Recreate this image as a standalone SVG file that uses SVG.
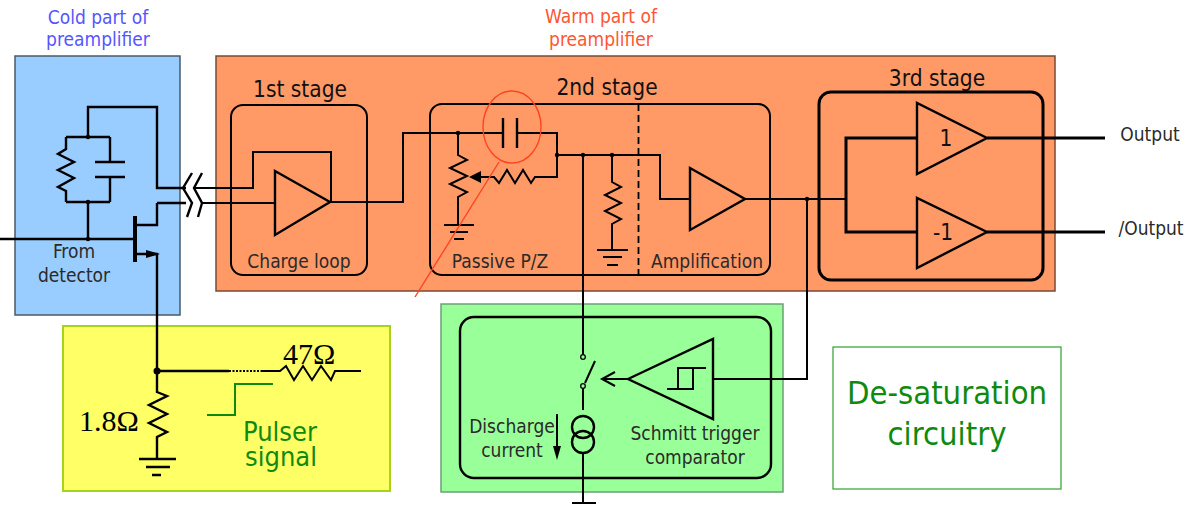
<svg xmlns="http://www.w3.org/2000/svg" width="1188" height="506" viewBox="0 0 1188 506">
<defs><style>
.t{font-family:"DejaVu Sans",sans-serif;font-stretch:condensed;font-size:19px;fill:#2a2a2a;text-anchor:middle}
.st{font-size:22.5px;fill:#111}
.w{fill:none;stroke:#000;stroke-width:2;stroke-linejoin:miter}
.b{fill:none;stroke:#000;stroke-width:3}
.m{fill:none;stroke:#000;stroke-width:2.4}
.g{font-family:"DejaVu Sans",sans-serif;font-stretch:condensed;fill:#0e8a0e;text-anchor:middle}
.o{font-family:"Liberation Serif",serif;font-size:30px;fill:#000}
</style></defs>
<rect width="1188" height="506" fill="#fff"/>
<g id="cold-box"><rect x="15" y="56" width="165" height="259" fill="#99ccff" stroke="#4a5a68" stroke-width="1.5"/></g>
<g id="warm-box"><rect x="216" y="56" width="839" height="235" fill="#ff9966" stroke="#7a4a32" stroke-width="1.5"/></g>
<g id="pulser-box"><rect x="63" y="326" width="327" height="165" fill="#ffff66" stroke="#a6d41c" stroke-width="2"/></g>
<g id="desat-box"><rect x="441" y="304" width="342" height="188" fill="#99ff99" stroke="#6e9e78" stroke-width="1.5"/></g>
<g id="desaturation"><rect x="833" y="347" width="228" height="142" fill="#fff" stroke="#2ea02e" stroke-width="1.2"/>
<text class="g" x="947" y="404" font-size="32.5">De-saturation</text><text class="g" x="947" y="445" font-size="32.5">circuitry</text></g>
<g id="titles">
<text class="t" x="98" y="24" style="fill:#5555ff">Cold part of</text><text class="t" x="98" y="46" style="fill:#5555ff">preamplifier</text>
<text class="t" x="601" y="23" style="fill:#ff5533">Warm part of</text><text class="t" x="601" y="46" style="fill:#ff5533">preamplifier</text>
</g>
<g id="stage1"><rect x="231" y="105" width="136" height="170" rx="12" class="w"/><text class="t st" x="300" y="97">1st stage</text><text class="t" x="299" y="268">Charge loop</text></g>
<g id="stage2"><rect x="430" y="104" width="340" height="171" rx="12" class="w"/><text class="t st" x="607" y="95">2nd stage</text><text class="t" x="500" y="268">Passive P/Z</text><text class="t" x="707" y="268">Amplification</text>
<path d="M638.5 104V277" fill="none" stroke="#000" stroke-width="1.8" stroke-dasharray="7 4"/></g>
<g id="stage3"><rect x="819" y="92" width="224" height="188" rx="12" class="b"/><text class="t st" x="937" y="86">3rd stage</text></g>
<g id="desat-inner"><rect x="460" y="317" width="311" height="161" rx="14" class="m"/>
<text class="t" x="512" y="433">Discharge</text><text class="t" x="512" y="457">current</text>
<text class="t" x="695" y="440">Schmitt trigger</text><text class="t" x="695" y="464">comparator</text></g>
<g id="connectors">
<path class="m" d="M88 137V107H157V188H186M66 137H110M66 202H110M88 202V239M66 137V149L58 154L74 162L58 170L74 178L58 187L66 191V202M110 137V162M95 162H125M95 177H125M110 177V202M157 203H186M135 225H157V203M135 254H157V315"/>
<path class="m" d="M0 239H135"/>
<path d="M135 216V262" fill="none" stroke="#000" stroke-width="4"/>
<path d="M146 250L160 254L146 258Z" fill="#000"/>
<path class="m" d="M192 173L183 188L192 203L187 217M202 173L194 188L202 203L198 217"/>
<circle cx="88" cy="137" r="2.2"/><circle cx="88" cy="202" r="2.2"/><circle cx="88" cy="239" r="2.2"/>
<path class="w" d="M195 188H253V152H331V202M203 203H275"/>
<path class="m" d="M275 171V235L330 202Z"/>
<path class="w" d="M330 202H403V133H503M517 133H557V155M557 155H660V199H690"/>
<path class="m" d="M503 118V148M517 118V148"/>
<path class="w" d="M458 133V155L467 160L450 168L467 176L450 184L467 192L458 197V225M444 225H474M450 232H468M454 239H464"/>
<path class="w" d="M557 155V177H535L531 183L523 170L515 183L507 170L499 183L494 177H478"/>
<path d="M469 177L481 171V183Z" fill="#000"/>
<path class="w" d="M612 155V182L621 187L605 195L621 203L605 211L621 219L612 224V250M597 250H628M603 257H622M607 265H618"/>
<circle cx="458" cy="133" r="2.2"/><circle cx="557" cy="155" r="2.2"/><circle cx="583" cy="155" r="2.2"/><circle cx="612" cy="155" r="2.2"/>
<path class="m" d="M690 168V230L745 199Z"/>
<path class="w" d="M745 199H846"/><circle cx="807" cy="199" r="2.2"/>
<path class="b" d="M987 138H1105M987 232H1105M918 138H846V232H918"/>
<path class="m" d="M917 103V174L987 138ZM917 198V268L987 232Z"/>
<text class="t st" x="946" y="146">1</text><text class="t st" x="943" y="240">-1</text>
<path class="w" d="M583 155V355M583 388V410M583 452V503M572 503H596M807 199V379H713"/>
<circle cx="583" cy="357" r="2.3" fill="#99ff99" stroke="#000" stroke-width="1.3"/><circle cx="583" cy="386" r="2.3" fill="#99ff99" stroke="#000" stroke-width="1.3"/>
<path class="w" d="M585 383L595 361"/>
<circle cx="583" cy="427" r="11" class="m"/><circle cx="583" cy="442" r="11" class="m"/>
<path class="w" d="M557 414V450"/><path d="M553 446H561L557 460Z" fill="#000"/>
<path class="m" d="M628 379L713 339V419Z"/>
<path class="w" d="M628 379H604M615 372L602 379L615 386M667 389H694M678 389V368H706M693 368V389"/>
<path class="m" d="M157 315V371H229"/>
<path d="M229 371H262" fill="none" stroke="#000" stroke-width="2" stroke-dasharray="2 1.5"/>
<path class="w" d="M262 371H280L286 366L294 380L303 366L312 380L321 366L331 380L335 371H361"/>
<circle cx="157" cy="371" r="3.5"/>
<path class="m" d="M157 371V392L167 396L149 405L167 414L149 423L167 432L157 437V459M139 459H176M146 467H170M152 475H161"/>
<path d="M207 415H235V384H273" fill="none" stroke="#0e8a0e" stroke-width="2"/>
<ellipse cx="512" cy="127" rx="29" ry="36" fill="none" stroke="#ff4422" stroke-width="1.4"/>
<path d="M499 162L415 297" fill="none" stroke="#ff4422" stroke-width="1.4"/>
</g>
<g id="labels">
<text class="t" x="74" y="258">From</text><text class="t" x="74" y="282">detector</text>
<text class="t" x="1150" y="141">Output</text><text class="t" x="1151" y="235">/Output</text>
<text class="o" x="79" y="431">1.8Ω</text><text class="o" x="283" y="364">47Ω</text>
<text class="g" x="280" y="441" font-size="27">Pulser</text><text class="g" x="281" y="466" font-size="27">signal</text>
</g>
</svg>
